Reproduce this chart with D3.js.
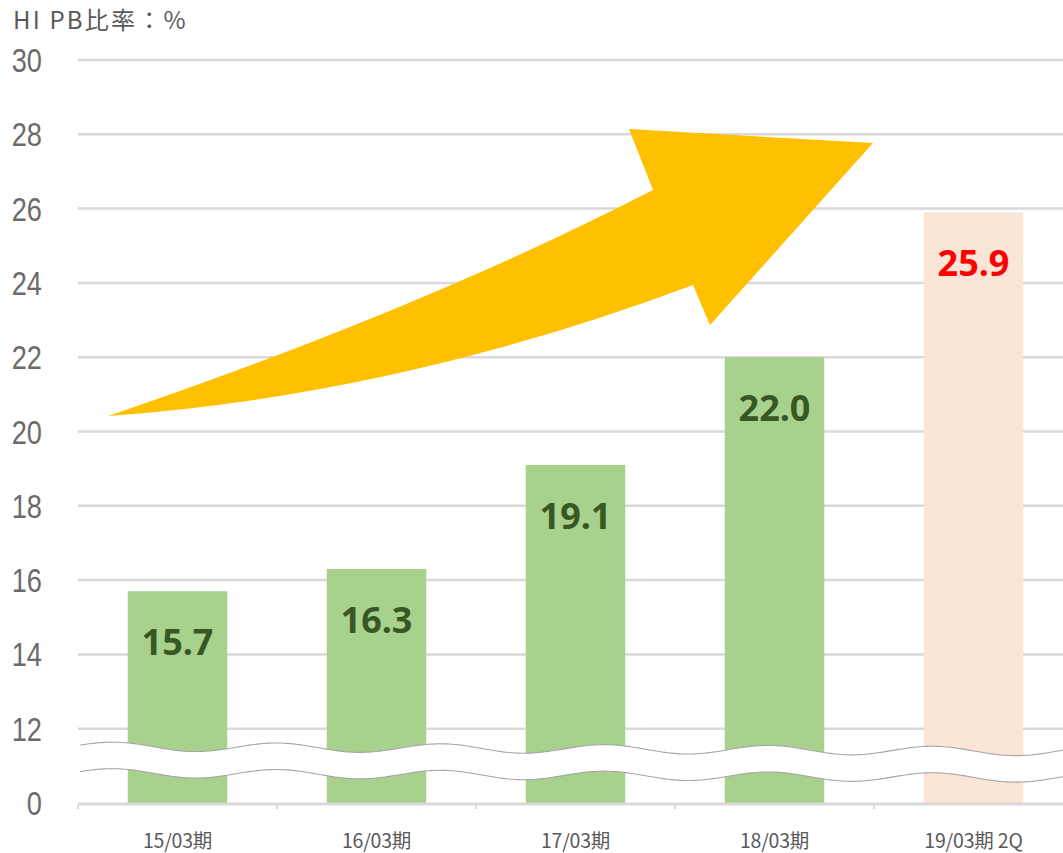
<!DOCTYPE html>
<html>
<head>
<meta charset="utf-8">
<script src="https://cdn.jsdelivr.net/npm/d3@7"></script>
<style>
  body { margin: 0; background: #fff; }
  svg { display: block; }
</style>
</head>
<body>
<svg id="chart"></svg>
<script>
// Chart data
const categories = ['15/03期', '16/03期', '17/03期', '18/03期', '19/03期 2Q'];
const pbRatio = [15.7, 16.3, 19.1, 22.0, 25.9];
const isForecast = [false, false, false, false, true];
// y axis is broken: the bottom tick stands for 0, the others are real values
const yTickValues = [10, 12, 14, 16, 18, 20, 22, 24, 26, 28, 30];
const yTickLabels = ['0', '12', '14', '16', '18', '20', '22', '24', '26', '28', '30'];
const title = 'HI PB比率：%';

function drawChart() {
  const width = 1063;
  const height = 853;
  const margin = {top: 60, right: -10, bottom: 50, left: 78};

  const svg = d3.select('#chart')
      .attr('width', width)
      .attr('height', height)
      .attr('viewBox', [0, 0, width, height]);

  // band scale for the periods, each bar takes half of its step
  const x = d3.scaleBand()
      .domain(categories)
      .range([margin.left, width - margin.right])
      .paddingInner(0.5)
      .paddingOuter(0.25);

  const y = d3.scaleLinear()
      .domain([yTickValues[0], yTickValues[yTickValues.length - 1]])
      .range([height - margin.bottom, margin.top]);

  // Title at the top left
  svg.append('text')
      .attr('x', 13)
      .attr('y', 29)
      .attr('fill', '#595959')
      .attr('font-family', '"Noto Sans CJK JP", "Noto Sans", sans-serif')
      .attr('font-size', 24)
      .attr('letter-spacing', 2.2)
      .text(title);

  // Grid lines (the 0 line is drawn by the x axis)
  svg.append('g')
      .selectAll('line')
      .data(yTickValues.slice(1))
      .join('line')
      .attr('x1', margin.left)
      .attr('x2', width)
      .attr('y1', (d) => y(d))
      .attr('y2', (d) => y(d))
      .attr('stroke', '#d9d9d9')
      .attr('stroke-width', 2.5);

  // Y tick labels, narrow light digits
  svg.append('g')
      .selectAll('text')
      .data(yTickValues)
      .join('text')
      .attr('transform', (d) => `translate(42,${y(d) + 12}) scale(0.8,1)`)
      .attr('text-anchor', 'end')
      .attr('fill', '#6b6b6b')
      .attr('font-family', '"Liberation Sans", Arial, sans-serif')
      .attr('font-size', 34)
      .text((d, i) => yTickLabels[i]);

  // Bars
  svg.append('g')
      .selectAll('rect')
      .data(pbRatio)
      .join('rect')
      .attr('x', (d, i) => x(categories[i]))
      .attr('width', x.bandwidth())
      .attr('y', (d) => y(d))
      .attr('height', (d) => y(yTickValues[0]) - y(d))
      .attr('fill', (d, i) => isForecast[i] ? '#fbe5d6' : '#a9d18e');

  // Axis break: white band between two wavy lines
  const period = 164;
  const wave = (base) => d3.range(80, width + 4, 3).map((px) => {
    const t = 2 * Math.PI * (px - 113) / period;
    return [px, base + (px - 80) * 0.005 - 4.5 * Math.cos(t)];
  });
  const topWave = wave(746.5);
  const bottomWave = wave(773);
  const band = topWave.concat(bottomWave.slice().reverse());
  svg.append('path')
      .attr('d', d3.line()(band) + 'Z')
      .attr('fill', '#fff');
  [topWave, bottomWave].forEach((w) => {
    svg.append('path')
        .attr('d', d3.line().curve(d3.curveBasis)(w))
        .attr('fill', 'none')
        .attr('stroke', '#a6a6a6')
        .attr('stroke-width', 1.1);
  });

  // X axis with ticks between the periods
  const xAxis = d3.axisBottom(x).tickSize(0).tickPadding(0);
  const xg = svg.append('g')
      .attr('transform', `translate(0,${y(yTickValues[0]) + 1})`)
      .call(xAxis);
  xg.select('.domain')
      .attr('d', `M${margin.left},0H${width}`)
      .attr('stroke', '#d9d9d9')
      .attr('stroke-width', 3);
  xg.selectAll('text')
      .attr('y', 44)
      .attr('dy', 0)
      .attr('fill', '#595959')
      .attr('font-family', '"Noto Sans CJK JP", sans-serif')
      .attr('font-size', 19.5)
      .attr('letter-spacing', -0.2);
  const step = x.step();
  xg.append('g')
      .selectAll('line')
      .data(d3.range(categories.length + 1))
      .join('line')
      .attr('x1', (i) => margin.left + i * step)
      .attr('x2', (i) => margin.left + i * step)
      .attr('y1', 1)
      .attr('y2', 5)
      .attr('stroke', '#d9d9d9')
      .attr('stroke-width', 2);

  // Value labels inside the bars
  svg.append('g')
      .selectAll('text')
      .data(pbRatio)
      .join('text')
      .attr('x', (d, i) => x(categories[i]) + x.bandwidth() / 2)
      .attr('y', (d) => y(d) + 64)
      .attr('text-anchor', 'middle')
      .attr('font-family', '"Noto Sans", sans-serif')
      .attr('font-weight', 'bold')
      .attr('font-size', 36)
      .attr('fill', (d, i) => isForecast[i] ? '#ff0000' : '#385723')
      .text((d) => d.toFixed(1));

  // Big rising arrow drawn over the plot
  const arrow = d3.path();
  arrow.moveTo(108, 416);
  arrow.quadraticCurveTo(420, 310, 653, 190);
  arrow.lineTo(629, 129);
  arrow.lineTo(873, 143);
  arrow.lineTo(710, 325);
  arrow.lineTo(693, 285);
  arrow.quadraticCurveTo(400, 395, 108, 416);
  arrow.closePath();
  svg.append('path')
      .attr('d', arrow.toString())
      .attr('fill', '#ffc000');
}

drawChart();
</script>
</body>
</html>
